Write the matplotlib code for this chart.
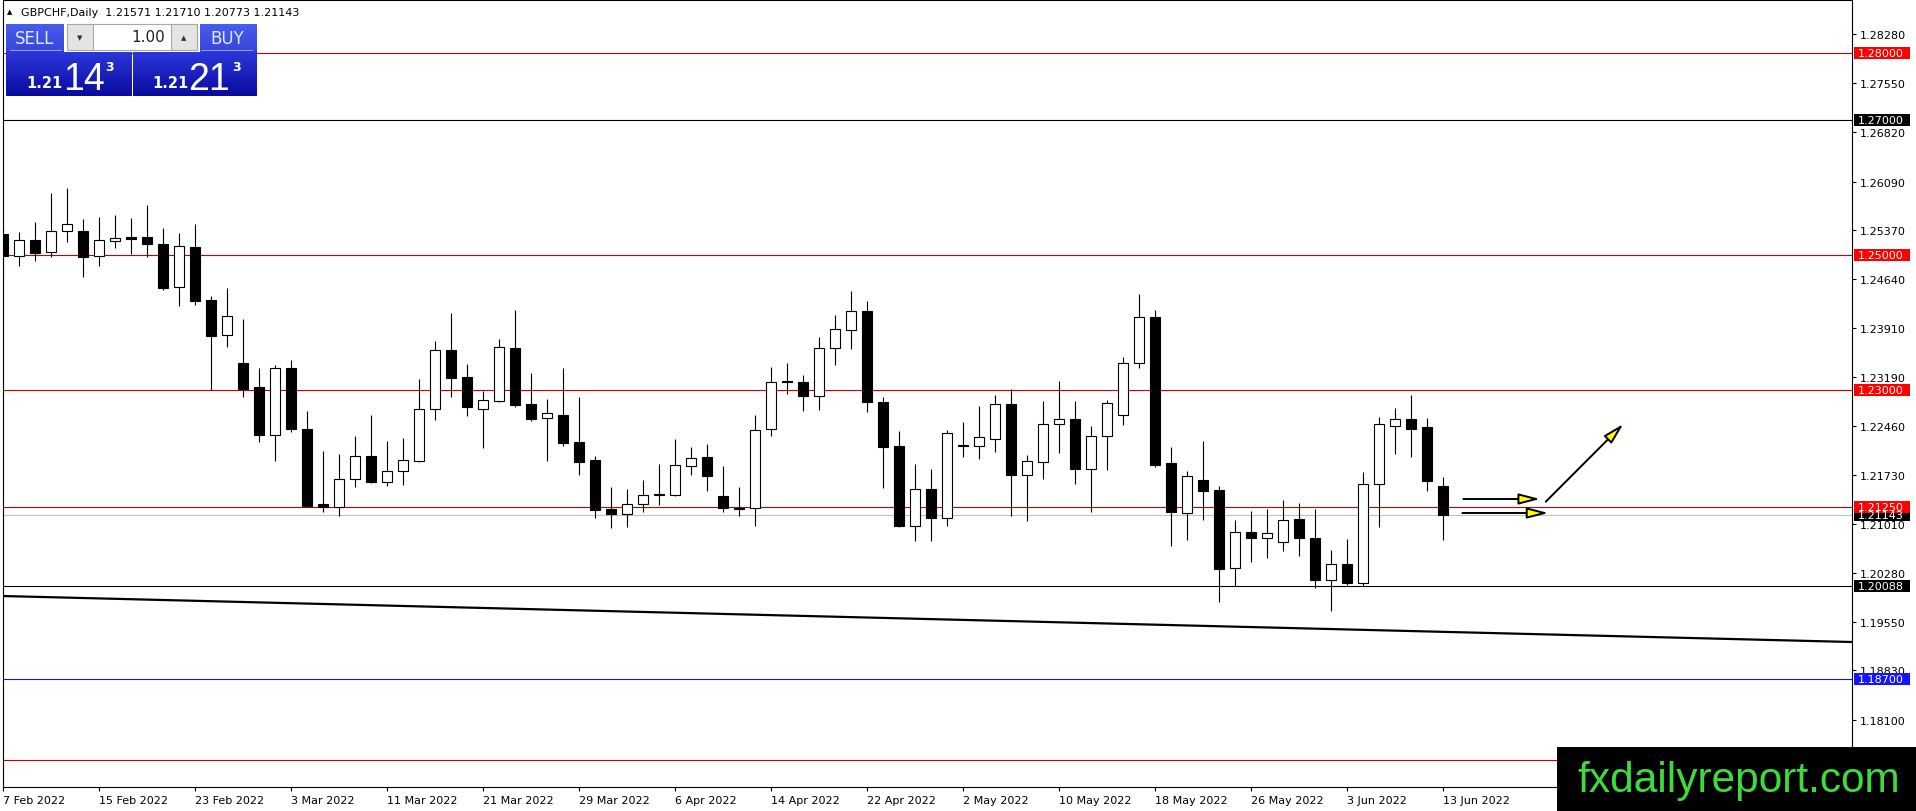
import numpy as np
import matplotlib
matplotlib.use('Agg')
import matplotlib.pyplot as plt
from matplotlib.patches import Rectangle
from matplotlib.transforms import blended_transform_factory
from matplotlib import font_manager

W, H = 1916, 812

# GBPCHF daily candles, 7 Feb 2022 .. 13 Jun 2022 (one per weekday)
opens = [1.25312, 1.24989, 1.25223, 1.25040, 1.25352, 1.25356, 1.24981, 1.25203, 1.25267, 1.25267,
         1.25163, 1.24529, 1.25119, 1.24331, 1.23807, 1.23400, 1.23039, 1.22331, 1.23322, 1.22416,
         1.21302, 1.21253, 1.21673, 1.22010, 1.21624, 1.21796, 1.21945, 1.22708, 1.23584, 1.23183,
         1.22708, 1.22836, 1.23614, 1.22782, 1.22574, 1.22619, 1.22218, 1.21951, 1.21223, 1.21158,
         1.21306, 1.21437, 1.21440, 1.21870, 1.21995, 1.21416, 1.21242, 1.21238, 1.22411, 1.23129,
         1.23109, 1.22901, 1.23614, 1.23881, 1.24164, 1.22817, 1.22159, 1.20979, 1.21520, 1.21089,
         1.22178, 1.22159, 1.22271, 1.22782, 1.21737, 1.21921, 1.22485, 1.22560, 1.21826, 1.22307,
         1.22628, 1.23391, 1.24075, 1.21911, 1.21164, 1.21654, 1.21510, 1.20347, 1.20881, 1.20792,
         1.20733, 1.21079, 1.20797, 1.20177, 1.20406, 1.20133, 1.21594, 1.22460, 1.22560, 1.22441,
         1.21571]
highs = [1.25396, 1.25346, 1.25494, 1.25921, 1.25995, 1.25535, 1.25564, 1.25594, 1.25549, 1.25742,
         1.25401, 1.25327, 1.25460, 1.24386, 1.24510, 1.24049, 1.23322, 1.23366, 1.23440, 1.22678,
         1.22089, 1.22044, 1.22312, 1.22623, 1.22233, 1.22277, 1.23158, 1.23723, 1.24138, 1.23377,
         1.22980, 1.23748, 1.24179, 1.23243, 1.22857, 1.23317, 1.22891, 1.22010, 1.21550, 1.21520,
         1.21654, 1.21891, 1.22263, 1.22148, 1.22188, 1.21862, 1.21550, 1.22619, 1.23332, 1.23391,
         1.23213, 1.23778, 1.24109, 1.24465, 1.24312, 1.22891, 1.22386, 1.21896, 1.21822, 1.22405,
         1.22515, 1.22757, 1.22921, 1.23010, 1.22029, 1.22831, 1.23129, 1.22831, 1.22465, 1.22842,
         1.23481, 1.24421, 1.24179, 1.22144, 1.21787, 1.22233, 1.21573, 1.21060, 1.21193, 1.21227,
         1.21361, 1.21317, 1.21227, 1.20618, 1.20782, 1.21777, 1.22594, 1.22728, 1.22921, 1.22574,
         1.21710]
lows = [1.24669, 1.24841, 1.24915, 1.24975, 1.25188, 1.24669, 1.24841, 1.25108, 1.25015, 1.24975,
        1.24484, 1.24247, 1.24257, 1.22999, 1.23638, 1.22895, 1.22227, 1.21945, 1.22367, 1.21253,
        1.21187, 1.21128, 1.21550, 1.21614, 1.21565, 1.21588, 1.21926, 1.22554, 1.22886, 1.22613,
        1.22133, 1.22821, 1.22738, 1.22539, 1.21945, 1.22168, 1.21737, 1.21089, 1.20941, 1.20956,
        1.21178, 1.21291, 1.21420, 1.21737, 1.21499, 1.21187, 1.21128, 1.20979, 1.22316, 1.22940,
        1.22687, 1.22702, 1.23366, 1.23604, 1.22664, 1.21539, 1.20956, 1.20757, 1.20757, 1.20979,
        1.22004, 1.21970, 1.22070, 1.21128, 1.21054, 1.21673, 1.22064, 1.21599, 1.21187, 1.21811,
        1.22479, 1.23317, 1.21856, 1.20682, 1.20771, 1.21068, 1.19842, 1.20079, 1.20445, 1.20495,
        1.20608, 1.20534, 1.20050, 1.19708, 1.20106, 1.20079, 1.20965, 1.22049, 1.22004, 1.21490,
        1.20773]
closes = [1.24989, 1.25223, 1.25030, 1.25356, 1.25460, 1.24975, 1.25223, 1.25248, 1.25242, 1.25168,
          1.24510, 1.25129, 1.24321, 1.23801, 1.24094, 1.23010, 1.22331, 1.23317, 1.22420, 1.21276,
          1.21253, 1.21673, 1.22010, 1.21633, 1.21796, 1.21960, 1.22708, 1.23584, 1.23177, 1.22747,
          1.22842, 1.23629, 1.22777, 1.22564, 1.22649, 1.22212, 1.21930, 1.21217, 1.21158, 1.21306,
          1.21440, 1.21443, 1.21876, 1.21989, 1.21722, 1.21247, 1.21233, 1.22405, 1.23118, 1.23109,
          1.22901, 1.23614, 1.23896, 1.24164, 1.22821, 1.22153, 1.20979, 1.21520, 1.21089, 1.22352,
          1.22159, 1.22292, 1.22782, 1.21737, 1.21936, 1.22485, 1.22560, 1.21826, 1.22307, 1.22797,
          1.23391, 1.24075, 1.21885, 1.21187, 1.21713, 1.21499, 1.20336, 1.20881, 1.20792, 1.20866,
          1.21060, 1.20792, 1.20177, 1.20406, 1.20124, 1.21594, 1.22485, 1.22569, 1.22420, 1.21648,
          1.21143]

date_labels = ['7 Feb 2022', '15 Feb 2022', '23 Feb 2022', '3 Mar 2022', '11 Mar 2022',
               '21 Mar 2022', '29 Mar 2022', '6 Apr 2022', '14 Apr 2022', '22 Apr 2022',
               '2 May 2022', '10 May 2022', '18 May 2022', '26 May 2022', '3 Jun 2022',
               '13 Jun 2022']
date_label_bars = [0, 6, 12, 18, 24, 30, 36, 42, 48, 54, 60, 66, 72, 78, 84, 90]

price_ticks = [1.28280, 1.27550, 1.26820, 1.26090, 1.25370, 1.24640, 1.23910, 1.23190,
               1.22460, 1.21730, 1.21010, 1.20280, 1.19550, 1.18830, 1.18100]

# horizontal levels drawn on the chart
level_prices = [1.2800, 1.2700, 1.2500, 1.2300, 1.2125, 1.20088, 1.1870, 1.1750]
level_colors = ['#c80000', 'black', '#c80000', '#c80000', '#c80000', 'black', '#1a1a9c', '#c80000']
bid_price = 1.21143

# price labels on the right axis (drawn in this order)
tag_prices = [1.2800, 1.2700, 1.2500, 1.2300, bid_price, 1.2125, 1.20088, 1.1870]
tag_colors = ['#ff0000', 'black', '#ff0000', '#ff0000', 'black', '#ff0000', 'black', '#1414ff']

# trend line anchors (bar index, price)
trend_x = [-0.02, 115.54]
trend_y = [1.19935, 1.19252]

# hand drawn arrows: (start bar, start price, end bar, end price)
arrows = [(91.25, 1.21376, 96.04, 1.21376),
          (91.19, 1.21168, 96.56, 1.21168),
          (96.40, 1.21336, 101.25, 1.22490)]
arrow_heads = ['yellow', 'yellow', 'yellow']

fig = plt.figure(figsize=(W / 100, H / 100), dpi=100)
fig.patch.set_facecolor('white')
ax = fig.add_axes([3 / W, 24 / H, 1849 / W, 787 / H])
ax.set_xlim(-0.02, 115.54)
ax.set_ylim(1.170986, 1.287872)
for sp in ax.spines.values():
    sp.set_linewidth(0.8)
    sp.set_color('black')

# levels
for p, c in zip(level_prices, level_colors):
    ax.axhline(p, color=c, lw=0.8, zorder=1)
ax.axhline(bid_price, color='#c0c0c0', lw=0.8, zorder=1)
ax.plot(trend_x, trend_y, color='black', lw=1.6, zorder=2)

# candles
x = np.arange(len(opens))
o = np.array(opens)
c = np.array(closes)
ax.vlines(x, lows, highs, color='black', lw=0.8, zorder=3)
bull = c >= o
body_h = np.maximum(np.abs(c - o), 0.00003)
body_b = np.minimum(o, c)
ax.bar(x[bull], body_h[bull], bottom=body_b[bull], width=0.62, facecolor='white',
       edgecolor='black', linewidth=0.8, zorder=4)
ax.bar(x[~bull], body_h[~bull], bottom=body_b[~bull], width=0.62, facecolor='black',
       edgecolor='black', linewidth=0.8, zorder=4)

# arrows
for (x0, y0, x1, y1), hc in zip(arrows, arrow_heads):
    ax.annotate('', xy=(x1, y1), xytext=(x0, y0),
                arrowprops=dict(arrowstyle='-|>,head_length=0.85,head_width=0.22',
                                mutation_scale=15, fc=hc, ec='black', lw=1.4,
                                shrinkA=0, shrinkB=0), zorder=5)

# axes ticks
ax.yaxis.tick_right()
ax.set_yticks(price_ticks)
ax.set_yticklabels([f'{v:.5f}' for v in price_ticks])
ax.tick_params(axis='y', direction='out', length=3, width=0.8, pad=2.5, labelsize=8)
ax.set_xticks(date_label_bars)
ax.set_xticklabels(date_labels, ha='left')
ax.tick_params(axis='x', direction='out', length=3, width=0.8, pad=2.5, labelsize=8)
for lab in ax.get_xticklabels():
    lab.set_x(lab.get_position()[0])

# right axis price tags
blend = blended_transform_factory(fig.transFigure, ax.transData)
hh = 6 / 6733
for p, col in zip(tag_prices, tag_colors):
    ax.add_patch(Rectangle((1854 / W, p - hh), 56 / W, 2 * hh, transform=blend,
                           facecolor=col, edgecolor='none', clip_on=False, zorder=6))
    ax.text(1858 / W, p, f'{p:.5f}', transform=blend, color='white', fontsize=8,
            va='center', ha='left', clip_on=False, zorder=7)


def fr(x0, y0, x1, y1):
    return [x0 / W, 1 - y1 / H, (x1 - x0) / W, (y1 - y0) / H]


def fig_box(x0, y0, x1, y1, **kw):
    r = Rectangle((x0 / W, 1 - y1 / H), (x1 - x0) / W, (y1 - y0) / H,
                  transform=fig.transFigure, **kw)
    fig.add_artist(r)


def gradient(x0, y0, x1, y1, top, bottom):
    g = fig.add_axes(fr(x0, y0, x1, y1))
    t = np.linspace(0, 1, 64)[:, None, None]
    img = (1 - t) * np.array(top) + t * np.array(bottom)
    g.imshow(img, aspect='auto', interpolation='bilinear')
    g.set_axis_off()


# header text
fig.text(10 / W, 1 - 12 / H, '\u25b2', fontsize=5, ha='center', va='center')
fig.text(21 / W, 1 - 13 / H, 'GBPCHF,Daily  1.21571 1.21710 1.20773 1.21143',
         fontsize=8, va='center', ha='left')

# one-click trading panel
gradient(6, 25, 131, 52, (0.28, 0.36, 0.93), (0.22, 0.28, 0.86))
gradient(6, 52, 131, 97, (0.17, 0.22, 0.86), (0.04, 0.04, 0.62))
gradient(133, 25, 257, 52, (0.28, 0.36, 0.93), (0.22, 0.28, 0.86))
gradient(133, 52, 257, 97, (0.17, 0.22, 0.86), (0.04, 0.04, 0.62))
fig_box(64, 24, 200, 53, facecolor='white', edgecolor='none')
fig_box(67, 25, 197, 51, facecolor='white', edgecolor='#a8a8a8', lw=0.8)
fig_box(67, 25, 93, 51, facecolor='#e4e4e4', edgecolor='#a8a8a8', lw=0.8)
fig_box(171, 25, 197, 51, facecolor='#e4e4e4', edgecolor='#a8a8a8', lw=0.8)
fig_box(10, 51, 62, 52, facecolor='#8c9cf4', edgecolor='none')
fig_box(201, 51, 253, 52, facecolor='#8c9cf4', edgecolor='none')
fig.text(80 / W, 1 - 38 / H, '\u25bc', fontsize=5, ha='center', va='center', color='#303030')
fig.text(184 / W, 1 - 38 / H, '\u25b2', fontsize=5, ha='center', va='center', color='#303030')
fig.text(165 / W, 1 - 38 / H, '1.00', fontsize=11, ha='right', va='center', color='#202020')
fig.text(35 / W, 1 - 39 / H, 'SELL', fontsize=12, ha='center', va='center', color='#e2e8ff')
fig.text(227 / W, 1 - 39 / H, 'BUY', fontsize=12, ha='center', va='center', color='#e2e8ff')
for bx, big, sx in [(26, '14', 63), (152, '21', 188)]:
    fig.text(bx / W, 1 - 88 / H, '1.21', fontsize=10.5, fontweight='bold', color='white',
             ha='left', va='baseline')
    fig.text(sx / W, 1 - 89.5 / H, big, fontsize=27, family='Liberation Sans', color='white',
             ha='left', va='baseline')
fig.text(105 / W, 1 - 71 / H, '3', fontsize=9, fontweight='bold', color='white',
         ha='left', va='baseline')
fig.text(232 / W, 1 - 71 / H, '3', fontsize=9, fontweight='bold', color='white',
         ha='left', va='baseline')

# watermark
fig_box(1557, 748, 1916, 812, facecolor='black', edgecolor='none', zorder=8)
try:
    font_manager.findfont(font_manager.FontProperties(family='Liberation Sans Narrow'),
                          fallback_to_default=False)
    wm_family, wm_size = 'Liberation Sans Narrow', 37
except Exception:
    wm_family, wm_size = 'Liberation Sans', 30.5
fig.text(1577 / W, 1 - 792 / H, 'fxdailyreport.com', family=wm_family, fontsize=wm_size,
         color='#3ddc3d', ha='left', va='baseline', zorder=9)

fig.savefig('out.png', dpi=100)
